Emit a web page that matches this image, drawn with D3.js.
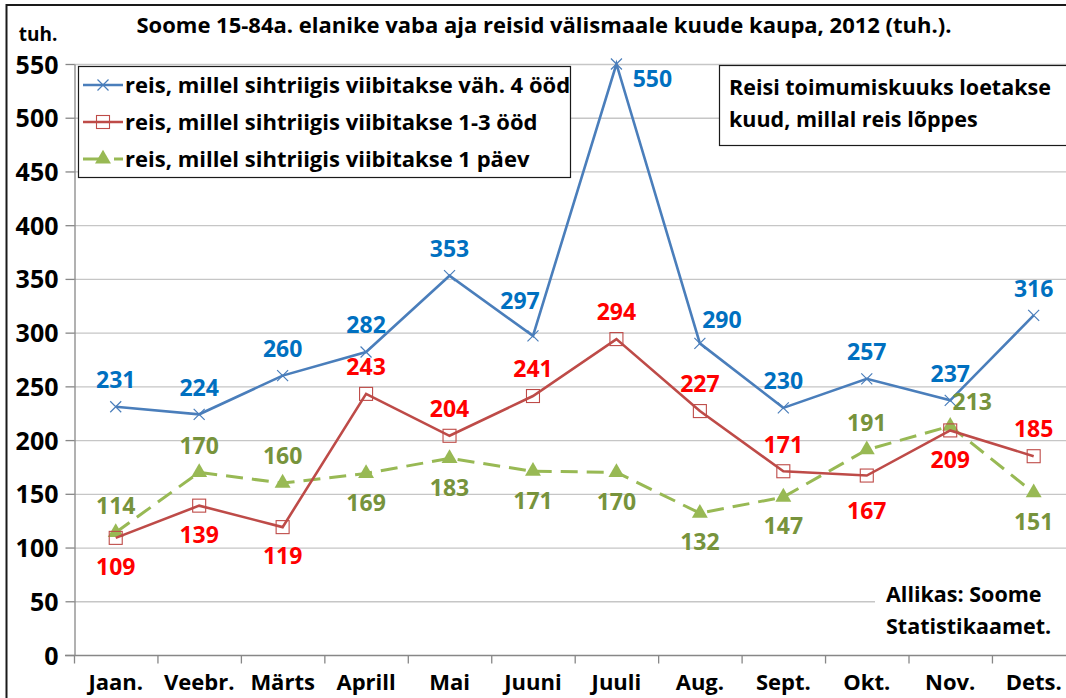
<!DOCTYPE html>
<html>
<head>
<meta charset="utf-8">
<script src="https://cdn.jsdelivr.net/npm/d3@7"></script>
<style>
  body { margin: 0; background: #fff; }
  svg text { font-family: "Open Sans", Lato, sans-serif; font-weight: bold; }
</style>
</head>
<body>
<svg id="chart"></svg>
<script>
// Layout variables
let width = 1066,
    height = 698;
let margin = { top: 64, left: 74, bottom: 43 };
let band = 83.45;

// Data
let months = ["Jaan.", "Veebr.", "Märts", "Aprill", "Mai", "Juuni", "Juuli", "Aug.", "Sept.", "Okt.", "Nov.", "Dets."];
let seriesNames = [
    "reis, millel sihtriigis viibitakse väh. 4 ööd",
    "reis, millel sihtriigis viibitakse 1-3 ööd",
    "reis, millel sihtriigis viibitakse 1 päev"
];
let longTrips = [231, 224, 260, 282, 353, 297, 550, 290, 230, 257, 237, 316];
let shortTrips = [109, 139, 119, 243, 204, 241, 294, 227, 171, 167, 209, 185];
let dayTrips = [114, 170, 160, 169, 183, 171, 170, 132, 147, 191, 213, 151];
// where each value label sits relative to its point
let longPlace = ["t", "t", "t", "t", "t", "tl", "r", "tr", "t", "t", "t", "t"];
let shortPlace = ["b", "b", "b", "t", "t", "t", "t", "t", "t", "bb", "b", "t"];
let dayPlace = ["t", "t", "t", "b", "b", "b", "b", "b", "b", "t", "tr", "b"];
let yTicks = [0, 50, 100, 150, 200, 250, 300, 350, 400, 450, 500, 550];

let placeOffset = {
    t: [0, -27], b: [0, 29], bb: [0, 35],
    tl: [-13, -35], tr: [22, -24], r: [36, 15]
};

let svg = d3.select("#chart").attr("width", width).attr("height", height);

let x = d3.scaleBand().domain(months).range([margin.left, margin.left + band * months.length]);
let y = d3.scaleLinear().domain([0, 550]).range([height - margin.bottom, margin.top]);
let cx = d => x(d) + x.bandwidth() / 2;

// Chart frame
svg.append("rect").attr("width", width).attr("height", height).attr("fill", "#fff");
svg.append("rect")
    .attr("x", 6.5).attr("y", 5)
    .attr("width", width + 20).attr("height", height + 20)
    .attr("fill", "none").attr("stroke", "#1a1a1a").attr("stroke-width", 2);

// Title
svg.append("text")
    .attr("x", 544).attr("y", 33)
    .attr("text-anchor", "middle")
    .attr("font-size", "22px")
    .text("Soome 15-84a. elanike vaba aja reisid välismaale kuude kaupa, 2012 (tuh.).");

svg.append("text")
    .attr("x", 38).attr("y", 41)
    .attr("text-anchor", "middle")
    .attr("font-size", "19px")
    .text("tuh.");

// Gridlines
svg.append("g").selectAll("line")
    .data(yTicks.filter(d => d > 0))
    .join("line")
    .attr("x1", margin.left).attr("x2", width)
    .attr("y1", d => y(d) + 0.5).attr("y2", d => y(d) + 0.5)
    .attr("stroke", "#c6c6c6").attr("stroke-width", 1.3);

// Y axis
let yAxis = svg.append("g")
    .attr("transform", `translate(${margin.left + 0.5},0)`)
    .call(d3.axisLeft(y).tickValues(yTicks).tickSize(9).tickSizeOuter(0).tickPadding(7));
yAxis.select(".domain").attr("stroke", "#878787").attr("stroke-width", 1.3);
yAxis.selectAll(".tick line").attr("stroke", "#878787").attr("stroke-width", 1.3);
yAxis.selectAll(".tick text")
    .attr("font-size", "25px").attr("fill", "#000")
    .attr("font-family", "Open Sans").attr("font-weight", "bold").attr("dy", "0.36em");

// X axis
let xAxis = svg.append("g")
    .attr("transform", `translate(0,${y(0) + 0.5})`)
    .call(d3.axisBottom(x).tickSize(0).tickSizeOuter(0).tickPadding(19));
xAxis.select(".domain").remove();
xAxis.append("line")
    .attr("x1", margin.left - 9).attr("x2", width)
    .attr("stroke", "#878787").attr("stroke-width", 1.3);
xAxis.selectAll(".boundary")
    .data(months)
    .join("line")
    .attr("class", "boundary")
    .attr("x1", d => x(d) + 0.5).attr("x2", d => x(d) + 0.5)
    .attr("y1", 0).attr("y2", 8)
    .attr("stroke", "#878787").attr("stroke-width", 1.3);
xAxis.selectAll(".tick text")
    .attr("font-size", "22px").attr("fill", "#000")
    .attr("font-family", "Open Sans").attr("font-weight", "bold");

// Source note, covers the 50 gridline
svg.append("rect")
    .attr("x", 875).attr("y", 575).attr("width", 200).attr("height", 68)
    .attr("fill", "#fff");
svg.append("text")
    .attr("x", 886).attr("y", 602)
    .attr("font-size", "21.5px")
    .selectAll("tspan")
    .data(["Allikas: Soome", "Statistikaamet."])
    .join("tspan")
    .attr("x", 886)
    .attr("dy", (d, i) => i ? 32 : 0)
    .text(d => d);

// Series
let series = [
    { name: seriesNames[0], values: longTrips, place: longPlace, line: "#4a7ebb", label: "#0070c0", marker: "x", dash: null },
    { name: seriesNames[1], values: shortTrips, place: shortPlace, line: "#be4b48", label: "#ff0000", marker: "square", dash: null },
    { name: seriesNames[2], values: dayTrips, place: dayPlace, line: "#98b954", label: "#77933c", marker: "triangle", dash: "17,9" }
];

function drawMarker(sel, s) {
    if (s.marker == "x") {
        sel.append("path")
            .attr("d", "M-5.5,-5.5L5.5,5.5M-5.5,5.5L5.5,-5.5")
            .attr("stroke", s.line).attr("stroke-width", 1.2).attr("fill", "none");
    } else if (s.marker == "square") {
        sel.append("rect")
            .attr("x", -6.5).attr("y", -6.5).attr("width", 13).attr("height", 13)
            .attr("stroke", s.line).attr("stroke-width", 1.1).attr("fill", "none");
    } else {
        sel.append("path")
            .attr("d", d3.symbol(d3.symbolTriangle, 110)())
            .attr("fill", s.line);
    }
}

let line = d3.line().x(d => cx(d.month)).y(d => y(d.value));

// draw back to front: green, red, blue
for (let s of series.slice().reverse()) {
    let pts = months.map((m, i) => ({ month: m, value: s.values[i], place: s.place[i] }));
    svg.append("path")
        .datum(pts)
        .attr("d", line)
        .attr("fill", "none")
        .attr("stroke", s.line)
        .attr("stroke-width", s.dash ? 3 : 2.6)
        .attr("stroke-dasharray", s.dash);
    svg.append("g").selectAll("g")
        .data(pts)
        .join("g")
        .attr("transform", d => `translate(${cx(d.month)},${y(d.value)})`)
        .each(function () { drawMarker(d3.select(this), s); });
}

for (let s of series) {
    let pts = months.map((m, i) => ({ month: m, value: s.values[i], place: s.place[i] }));
    svg.append("g").selectAll("text")
        .data(pts)
        .join("text")
        .attr("x", d => cx(d.month) + placeOffset[d.place][0])
        .attr("y", d => y(d.value) + placeOffset[d.place][1])
        .attr("dy", "0.36em")
        .attr("text-anchor", "middle")
        .attr("font-size", "23px")
        .attr("fill", s.label)
        .text(d => d.value);
}

// Legend
let legend = svg.append("g");
legend.append("rect")
    .attr("x", 78.5).attr("y", 66.5).attr("width", 492).attr("height", 111)
    .attr("fill", "#fff").attr("stroke", "#1a1a1a").attr("stroke-width", 1.2);
series.forEach((s, i) => {
    let row = legend.append("g").attr("transform", `translate(0,${85 + i * 37})`);
    row.append("line")
        .attr("x1", 83).attr("x2", 123)
        .attr("stroke", s.line).attr("stroke-width", s.dash ? 3 : 2.6)
        .attr("stroke-dasharray", s.dash ? "17,14" : null);
    drawMarker(row.append("g").attr("transform", "translate(103,0)"), s);
    row.append("text")
        .attr("x", 125).attr("dy", "0.36em")
        .attr("font-size", "22px")
        .text(s.name);
});

// Note about the month of a trip
svg.append("rect")
    .attr("x", 719.5).attr("y", 65.5).attr("width", 400).attr("height", 80)
    .attr("fill", "#fff").attr("stroke", "#1a1a1a").attr("stroke-width", 1.2);
svg.append("text")
    .attr("font-size", "21.5px")
    .selectAll("tspan")
    .data(["Reisi toimumiskuuks loetakse", "kuud, millal reis lõppes"])
    .join("tspan")
    .attr("x", 729)
    .attr("y", (d, i) => 95 + i * 32)
    .text(d => d);
</script>
</body>
</html>
